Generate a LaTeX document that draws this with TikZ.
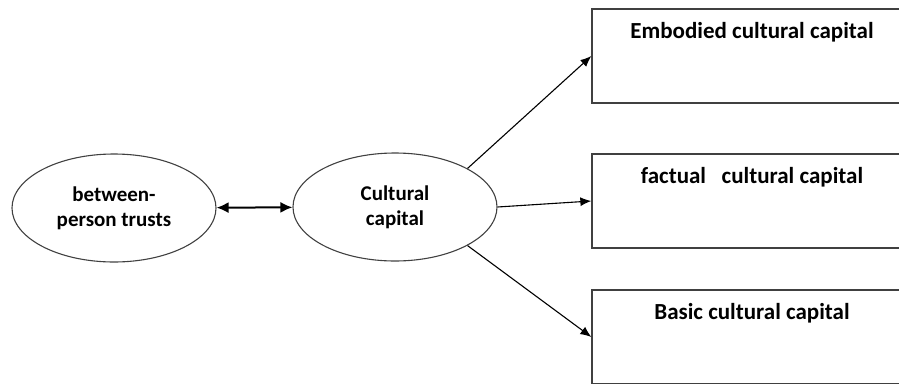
\documentclass[tikz,border=0pt]{standalone}
\usepackage{fontspec}
\setmainfont{Carlito}
\usetikzlibrary{shapes.geometric,arrows.meta}
\def\ovalnode{\node[ellipse,draw=black!75,line width=1.1pt,minimum width=204pt,minimum height=108pt,inner sep=0pt,align=center,font=\fontsize{21}{25}\selectfont\bfseries]}

\begin{document}
\begin{tikzpicture}[x=1pt,y=-1pt,auto,
  capbox/.style={rectangle,draw=black!75,line width=1.3pt,minimum width=320pt,minimum height=94pt},
  captitle/.style={anchor=base,yshift=-30pt,inner sep=0pt,font=\fontsize{23}{26}\selectfont\bfseries},
  link/.style={line width=1.1pt,-{Latex[length=11pt,width=9pt]}}]
\useasboundingbox (0,0) rectangle (899,383);
\ovalnode (trust) at (114,208) {between-\\person trusts};
\ovalnode (cap) at (395,207) {Cultural\\capital};
\node[capbox,label={[captitle]north:Embodied cultural capital}] (emb) at (752,56) {};
\node[capbox,label={[captitle]north:factual \ \ cultural capital}] (fact) at (752,201) {};
\node[capbox,label={[captitle]north:Basic cultural capital}] (basic) at (752,337) {};
\draw[line width=2pt,{Latex[length=12pt,width=11pt]}-{Latex[length=12pt,width=11pt]}] (trust) -- (cap);
\draw[link] (cap.north east) -- (emb.west);
\draw[link] (cap.east) -- (fact.west);
\draw[link] (cap.south east) -- (basic.west);
\end{tikzpicture}
\end{document}
